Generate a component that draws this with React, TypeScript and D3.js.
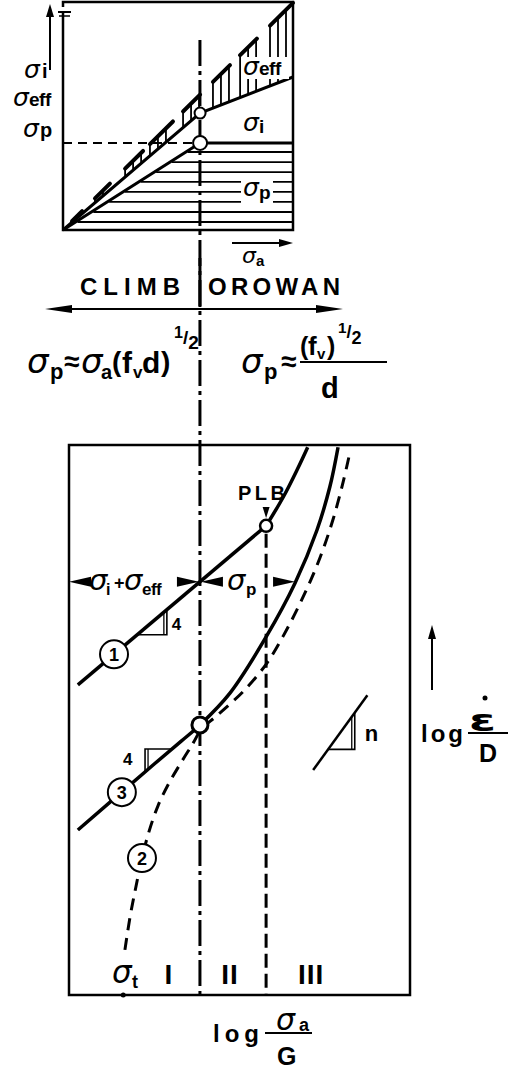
import React from "react";
import * as d3 from "d3";

// ---------- Upper panel: internal stress components versus applied stress ----------
// applied stress (x) and stress component (y) in arbitrary units, 0..10
const transitionTop = 5.96; // applied stress where climb gives way to Orowan bowing
const sigmaPPath: [number, number][] = [[0, 0], [5.96, 3.82], [10, 3.82]];
const sigmaIPath: [number, number][] = [[0, 0], [5.96, 5.13], [10, 6.71]];
const effTeeth: [number, number][] = [
  [0.39, 0.83], [1.39, 2.04], [2.7, 3.48], [3.78, 4.78],
  [5.22, 5.96], [6.52, 7.26], [7.7, 8.43], [9.0, 10],
];
const effTopSlope = 0.996;
const hatchLevels = [0.35, 0.79, 1.23, 1.67, 2.11, 2.54, 2.98, 3.42];

// ---------- Lower panel: log strain rate versus log stress ----------
const transitionStress = 3.84;
const plbStress = 5.78;
const thresholdStress = 1.59;
const curve1Linear: [number, number][] = [[0.26, 5.64], [5.78, 8.53]];
const curve1Breakdown: [number, number][] = [[5.78, 8.53], [6.28, 9.05], [6.69, 9.55], [7.0, 9.96]];
const curve3: [number, number][] = [
  [0.26, 3.0], [2.5, 4.2], [3.3, 4.62], [3.84, 4.91], [4.72, 5.49],
  [5.78, 6.51], [6.63, 7.49], [7.27, 8.45], [7.65, 9.24], [7.89, 9.96],
];
const curve2: [number, number][] = [
  [1.64, 0.82], [1.79, 1.42], [1.96, 1.96], [2.14, 2.49], [2.35, 2.98],
  [2.61, 3.44], [2.93, 3.85], [3.31, 4.25], [3.64, 4.58], [3.87, 4.82],
  [4.28, 5.05], [4.72, 5.29], [5.16, 5.55], [5.81, 6.04], [6.39, 6.65],
  [6.92, 7.31], [7.36, 7.95], [7.74, 8.64], [8.04, 9.33], [8.24, 9.87],
];
const slopeNLine: [number, number][] = [[7.16, 4.09], [8.75, 5.45]];
const slope1Span = [2.0, 2.87];
const slope3Span = [2.23, 3.02];
const slopeNSpan = [7.6, 8.38];
const label1At = 1.32;
const label3At = 1.55;
const label2Index = 3;
const regionLabels = [
  { text: "I", x: 2.93 },
  { text: "II", x: 4.72 },
  { text: "III", x: 7.1 },
];

const SANS = "'Liberation Sans', Arial, Helvetica, sans-serif";
const GREEK = "'DejaVu Sans', 'Liberation Sans', sans-serif";

const topX = d3.scaleLinear().domain([0, 10]).range([63, 293]);
const topY = d3.scaleLinear().domain([0, 10]).range([230, 2]);
const botX = d3.scaleLinear().domain([0, 10]).range([69, 410]);
const botY = d3.scaleLinear().domain([0, 10]).range([995, 445]);

const sigmaIAt = d3.scaleLinear().domain(sigmaIPath.map((d) => d[0])).range(sigmaIPath.map((d) => d[1]));
const line1At = d3.scaleLinear().domain(curve1Linear.map((d) => d[0])).range(curve1Linear.map((d) => d[1]));
const line3At = d3.scaleLinear().domain([curve3[0][0], curve3[3][0]]).range([curve3[0][1], curve3[3][1]]);
const lineNAt = d3.scaleLinear().domain(slopeNLine.map((d) => d[0])).range(slopeNLine.map((d) => d[1]));

const topLine = d3.line<[number, number]>().x((d) => topX(d[0])).y((d) => topY(d[1]));
const botLinear = d3.line<[number, number]>().x((d) => botX(d[0])).y((d) => botY(d[1]));
const botSmooth = d3
  .line<[number, number]>()
  .x((d) => botX(d[0]))
  .y((d) => botY(d[1]))
  .curve(d3.curveCatmullRom.alpha(0.5));

function Sig({ x, y, size }: { x: number; y: number; size: number }) {
  return (
    <text x={x} y={y} fontFamily={GREEK} fontStyle="italic" fontSize={size}>
      σ
    </text>
  );
}

function B({
  x, y, size, children, anchor, ls, len,
}: {
  x: number; y: number; size: number; children: React.ReactNode;
  anchor?: string; ls?: number; len?: number;
}) {
  return (
    <text x={x} y={y} fontFamily={SANS} fontWeight="bold" fontSize={size}
      textAnchor={anchor as any} letterSpacing={ls}
      textLength={len} lengthAdjust={len ? "spacing" : undefined}>
      {children}
    </text>
  );
}

// one-half exponent with a slanted fraction
function Half({ x, y, size }: { x: number; y: number; size: number }) {
  return (
    <text x={x} y={y} fontFamily={SANS} fontWeight="bold" fontSize={size}>
      <tspan fontSize={size * 0.85}>1</tspan>
      <tspan dy={size * 0.3}>/</tspan>
      <tspan dy={size * 0.3}>2</tspan>
    </text>
  );
}

// filled arrow head; dir is the direction the tip points
function Head({ x, y, dir, len = 14, half = 4 }: { x: number; y: number; dir: "l" | "r" | "u" | "d"; len?: number; half?: number }) {
  let pts: number[][];
  if (dir === "r") pts = [[x, y], [x - len, y - half], [x - len, y + half]];
  else if (dir === "l") pts = [[x, y], [x + len, y - half], [x + len, y + half]];
  else if (dir === "u") pts = [[x, y], [x - half, y + len], [x + half, y + len]];
  else pts = [[x, y], [x - half, y - len], [x + half, y - len]];
  return <polygon points={pts.map((p) => p.join(",")).join(" ")} fill="#000" />;
}

function CircleLabel({ cx, cy, label }: { cx: number; cy: number; label: string }) {
  return (
    <g>
      <circle cx={cx} cy={cy} r={14} fill="#fff" stroke="#000" strokeWidth={2} />
      <text x={cx} y={cy + 6.5} textAnchor="middle" fontFamily={SANS} fontWeight="bold" fontSize={18}>
        {label}
      </text>
    </g>
  );
}

export default function App() {
  const trX = botX(transitionStress);
  const pSlope = sigmaPPath[1][1] / sigmaPPath[1][0];

  // teeth of the effective-stress band
  const teeth = effTeeth.map(([a, b], i) => {
    const x0 = topX(a);
    const x1 = topX(b);
    const verts: number[] = [];
    for (let px = x0; px <= x1 + 0.5; px += 8) verts.push(px);
    return (
      <g key={i}>
        {verts.map((px, j) => {
          const v = topX.invert(px);
          return (
            <line key={j} x1={px} x2={px} y1={topY(effTopSlope * v)} y2={topY(sigmaIAt(v))}
              stroke="#000" strokeWidth={1.8} />
          );
        })}
        <line x1={x0} y1={topY(effTopSlope * a)} x2={x1} y2={topY(effTopSlope * b)}
          stroke="#000" strokeWidth={4} strokeLinecap="round" />
      </g>
    );
  });

  const arrowY = botY(line1At(transitionStress));
  const c3Arrow = curve3[6];

  // slope triangles
  const t1 = {
    ax: botX(slope1Span[0]), ay: botY(line1At(slope1Span[0])),
    bx: botX(slope1Span[1]), cy: botY(line1At(slope1Span[1])),
  };
  const t3 = {
    ax: botX(slope3Span[0]), ay: botY(line3At(slope3Span[0])),
    cx: botX(slope3Span[1]), cy: botY(line3At(slope3Span[1])),
  };
  const tn = {
    ax: botX(slopeNSpan[0]), ay: botY(lineNAt(slopeNSpan[0])),
    bx: botX(slopeNSpan[1]), cy: botY(lineNAt(slopeNSpan[1])),
  };

  return (
    <svg width={509} height={1070} viewBox="0 0 509 1070"
      style={{ position: "absolute", left: 0, top: 0, background: "#fff" }}>
      <rect x={0} y={0} width={509} height={1070} fill="#fff" />

      {/* ================= upper panel ================= */}
      {/* σp hatching */}
      {hatchLevels.map((L, i) => (
        <line key={i} x1={topX(L / pSlope) + 2} x2={topX(10) - 1} y1={topY(L)} y2={topY(L)}
          stroke="#000" strokeWidth={1.8} />
      ))}
      {teeth}
      <path d={topLine(sigmaPPath) || ""} fill="none" stroke="#000" strokeWidth={3} />
      <path d={topLine(sigmaIPath) || ""} fill="none" stroke="#000" strokeWidth={3} />
      <line x1={topX(0)} x2={topX(transitionTop)} y1={topY(sigmaPPath[1][1])} y2={topY(sigmaPPath[1][1])}
        stroke="#000" strokeWidth={2} strokeDasharray="9,6" />

      {/* frame with axis break */}
      <path d={`M${topX(0)},7 V${topY(10)} H${topX(10)} V${topY(0)} H${topX(0)} V12`}
        fill="none" stroke="#000" strokeWidth={2.5} />
      <line x1={58} x2={71} y1={12} y2={12} stroke="#000" strokeWidth={2} />
      <line x1={59} x2={70} y1={16} y2={16} stroke="#000" strokeWidth={1.5} />

      {/* ordinate arrow */}
      <line x1={50} x2={50} y1={70} y2={15} stroke="#000" strokeWidth={2} />
      <Head x={50} y={4} dir="u" len={13} half={4} />

      {/* ordinate labels */}
      <Sig x={24} y={78} size={25} />
      <B x={42} y={78} size={20}>i</B>
      <Sig x={13} y={106} size={25} />
      <B x={29} y={106} size={19} ls={-0.5}>eff</B>
      <Sig x={23} y={137} size={25} />
      <B x={40} y={137} size={20}>p</B>

      {/* interior labels */}
      <rect x={242} y={57} width={47} height={22} fill="#fff" />
      <Sig x={243} y={75} size={25} />
      <B x={259} y={75} size={19} ls={-0.5}>eff</B>
      <Sig x={243} y={131} size={25} />
      <B x={259} y={133} size={19}>i</B>
      <rect x={241} y={178} width={32} height={26} fill="#fff" />
      <Sig x={243} y={196} size={25} />
      <B x={259} y={199} size={19}>p</B>

      {/* abscissa arrow */}
      <line x1={232} x2={282} y1={243} y2={243} stroke="#000" strokeWidth={2} />
      <Head x={293} y={243} dir="r" len={14} half={4} />
      <Sig x={242} y={263} size={22} />
      <B x={256} y={266} size={15}>a</B>

      {/* ================= dividing line ================= */}
      <line x1={trX} x2={trX} y1={40} y2={botY(0)} stroke="#000" strokeWidth={3}
        strokeDasharray="26,5,4,5" />
      <line x1={trX} x2={trX} y1={258} y2={307} stroke="#000" strokeWidth={3} />

      {/* regime labels */}
      <B x={80} y={295} size={24} len={100}>CLIMB</B>
      <B x={208} y={295} size={24} len={132}>OROWAN</B>
      <line x1={60} x2={330} y1={309} y2={309} stroke="#000" strokeWidth={2} />
      <Head x={45} y={309} dir="l" len={27} half={4} />
      <Head x={343} y={309} dir="r" len={27} half={4} />

      {/* formula: climb */}
      <Sig x={27} y={373} size={34} />
      <B x={50} y={379} size={22}>p</B>
      <B x={64} y={371} size={28}>≈</B>
      <Sig x={81} y={373} size={34} />
      <B x={101} y={379} size={20}>a</B>
      <B x={112} y={371} size={28}>(</B>
      <B x={122} y={373} size={30}>f</B>
      <B x={133} y={378} size={17}>v</B>
      <B x={142} y={373} size={30}>d</B>
      <B x={161} y={371} size={28}>)</B>
      <Half x={174} y={338} size={19} />

      {/* formula: Orowan */}
      <Sig x={241} y={373} size={34} />
      <B x={264} y={379} size={22}>p</B>
      <B x={281} y={371} size={28}>≈</B>
      <line x1={300} x2={387} y1={362} y2={362} stroke="#000" strokeWidth={2} />
      <B x={300} y={355} size={25}>(</B>
      <B x={308} y={355} size={26}>f</B>
      <B x={317} y={359} size={15}>v</B>
      <B x={327} y={355} size={25}>)</B>
      <Half x={338} y={333} size={18} />
      <B x={321} y={398} size={29}>d</B>

      {/* ================= lower panel ================= */}
      <rect x={botX(0)} y={botY(10)} width={botX(10) - botX(0)} height={botY(0) - botY(10)}
        fill="none" stroke="#000" strokeWidth={2.5} />

      {/* power-law breakdown boundary */}
      <line x1={botX(plbStress)} x2={botX(plbStress)} y1={botY(line1At(plbStress)) + 8} y2={botY(0)}
        stroke="#000" strokeWidth={3} strokeDasharray="14,6" />

      {/* curve 2 (threshold) */}
      <path d={botSmooth(curve2) || ""} fill="none" stroke="#000" strokeWidth={3} strokeDasharray="12,8" />
      {/* curve 1 */}
      <path d={botLinear(curve1Linear) || ""} fill="none" stroke="#000" strokeWidth={3.5} />
      <path d={botSmooth(curve1Breakdown) || ""} fill="none" stroke="#000" strokeWidth={3.5} />
      {/* curve 3 */}
      <path d={botSmooth(curve3) || ""} fill="none" stroke="#000" strokeWidth={3.5} />

      {/* slope triangle on curve 1 */}
      <path d={`M${t1.ax},${t1.ay} H${t1.bx} V${t1.cy}`} fill="none" stroke="#000" strokeWidth={1.6} />
      <line x1={t1.bx - 3} x2={t1.bx - 3} y1={t1.ay} y2={botY(line1At(botX.invert(t1.bx - 3)))}
        stroke="#000" strokeWidth={1.3} />
      <B x={t1.bx + 5} y={t1.ay - 5} size={17}>4</B>

      {/* slope triangle on curve 3 */}
      <path d={`M${t3.ax},${t3.ay} V${t3.cy} H${t3.cx}`} fill="none" stroke="#000" strokeWidth={1.6} />
      <line x1={t3.ax + 3} x2={t3.ax + 3} y1={t3.cy} y2={botY(line3At(botX.invert(t3.ax + 3)))}
        stroke="#000" strokeWidth={1.3} />
      <B x={t3.ax - 22} y={t3.ay - 7} size={17}>4</B>

      {/* slope triangle n */}
      <path d={botLinear(slopeNLine) || ""} fill="none" stroke="#000" strokeWidth={2.5} />
      <path d={`M${tn.ax},${tn.ay} H${tn.bx} V${tn.cy}`} fill="none" stroke="#000" strokeWidth={1.6} />
      <line x1={tn.bx - 3} x2={tn.bx - 3} y1={tn.ay} y2={botY(lineNAt(botX.invert(tn.bx - 3)))}
        stroke="#000" strokeWidth={1.3} />
      <B x={tn.bx + 10} y={tn.ay - 8} size={22}>n</B>

      {/* stress partition arrows */}
      <Head x={botX(0)} y={arrowY} dir="l" len={22} half={5} />
      <Head x={trX - 1} y={arrowY} dir="r" len={22} half={5} />
      <Head x={trX + 1} y={arrowY} dir="l" len={22} half={5} />
      <Head x={botX(c3Arrow[0])} y={arrowY} dir="r" len={22} half={5} />
      <Sig x={89} y={590} size={29} />
      <B x={106} y={595} size={16}>i</B>
      <B x={114} y={589} size={18}>+</B>
      <Sig x={124} y={590} size={29} />
      <B x={142} y={595} size={17} ls={-0.5}>eff</B>
      <Sig x={227} y={590} size={29} />
      <B x={246} y={595} size={17}>p</B>

      {/* PLB marker */}
      <B x={238} y={500} size={20} len={47}>PLB</B>
      <Head x={botX(plbStress)} y={518} dir="d" len={11} half={3.5} />
      <circle cx={botX(plbStress)} cy={botY(line1At(plbStress))} r={6} fill="#fff" stroke="#000" strokeWidth={2.5} />

      {/* transition point */}
      <circle cx={trX} cy={botY(curve3[3][1])} r={8} fill="#fff" stroke="#000" strokeWidth={3} />

      {/* curve numbers */}
      <CircleLabel cx={botX(label1At)} cy={botY(line1At(label1At))} label="1" />
      <CircleLabel cx={botX(label3At)} cy={botY(line3At(label3At))} label="3" />
      <CircleLabel cx={botX(curve2[label2Index][0])} cy={botY(curve2[label2Index][1])} label="2" />

      {/* threshold stress and regions */}
      <circle cx={botX(thresholdStress)} cy={botY(0)} r={2.5} fill="#000" />
      <Sig x={112} y={983} size={31} />
      <B x={132} y={988} size={18}>t</B>
      {regionLabels.map((r) => (
        <B key={r.text} x={botX(r.x)} y={984} size={28} anchor="middle" ls={1}>{r.text}</B>
      ))}

      {/* upper panel circles drawn last */}
      <circle cx={topX(transitionTop)} cy={topY(sigmaIPath[1][1])} r={5.5} fill="#fff" stroke="#000" strokeWidth={2} />
      <circle cx={topX(transitionTop)} cy={topY(sigmaPPath[1][1])} r={7} fill="#fff" stroke="#000" strokeWidth={2} />

      {/* axis titles */}
      <B x={213} y={1042} size={24} len={46}>log</B>
      <line x1={265} x2={312} y1={1033} y2={1033} stroke="#000" strokeWidth={2} />
      <Sig x={276} y={1030} size={30} />
      <B x={299} y={1031} size={18}>a</B>
      <B x={277} y={1065} size={25}>G</B>

      <line x1={432} x2={432} y1={690} y2={637} stroke="#000" strokeWidth={2} />
      <Head x={432} y={625} dir="u" len={14} half={4} />
      <B x={421} y={742} size={24} len={42}>log</B>
      <line x1={468} x2={508} y1={733} y2={733} stroke="#000" strokeWidth={2} />
      <text x={469} y={731} fontFamily={GREEK} fontWeight="bold" fontSize={30}
        textLength={27} lengthAdjust="spacingAndGlyphs">ε</text>
      <circle cx={485} cy={698} r={2.5} fill="#000" />
      <B x={479} y={762} size={25}>D</B>
    </svg>
  );
}
